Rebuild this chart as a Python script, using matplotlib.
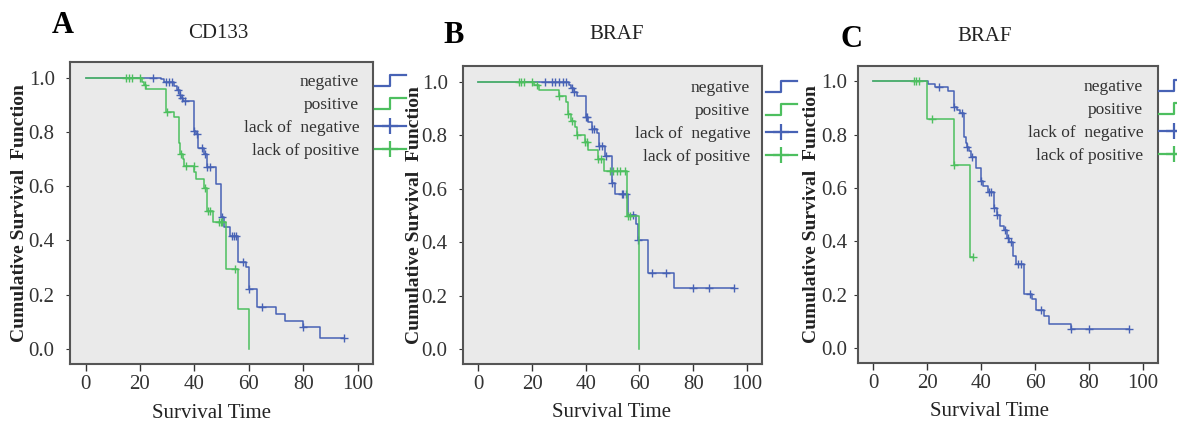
# Kaplan-Meier curves, three panels (CD133 / BRAF / BRAF)
import numpy as np
import matplotlib
matplotlib.use('Agg')
import matplotlib.pyplot as plt
from matplotlib.lines import Line2D
from matplotlib.legend_handler import HandlerBase

plt.rcParams['font.family'] = ['Liberation Serif', 'DejaVu Serif']

BLUE = '#4762B5'
GREEN = '#4DBF5F'
BG = '#EAEAEA'

######################## data #################################################
# panel A - CD133
a_neg_t = [0, 27.8, 28.8, 32.4, 33.5, 34.6, 35.2, 35.9, 39.7, 40.5, 41.3, 43.6, 44.7, 47.8,
           49.9, 50.7, 52.9, 56, 59, 60, 63.1, 70.1, 73.2, 80, 86, 95]
a_neg_s = [1.0, 0.995, 0.985, 0.968, 0.955, 0.937, 0.926, 0.913, 0.804, 0.793, 0.74, 0.72, 0.669, 0.607,
           0.485, 0.449, 0.417, 0.322, 0.30, 0.221, 0.155, 0.128, 0.103, 0.079, 0.039, 0.039]
a_neg_cens = [24.7, 29.6, 30.5, 31.7, 33.9, 34.8, 35.5, 36.4, 39.7, 40.9, 42.8, 44.0, 44.7, 45.6,
              50.1, 53.8, 54.5, 55.1, 57.8, 60, 64.9, 80, 95]

a_pos_t = [0, 20.8, 21.5, 22.3, 29.7, 32.4, 34.2, 34.8, 35.7, 36.2, 39.8, 40.7, 43.4, 44.6, 46.8, 51.7, 56, 60]
a_pos_s = [1.0, 0.983, 0.974, 0.958, 0.874, 0.856, 0.76, 0.72, 0.70, 0.673, 0.652, 0.626, 0.595, 0.507,
           0.467, 0.294, 0.148, 0.0]
a_pos_cens = [15, 16, 17, 20, 21.8, 29.9, 34.9, 36.8, 39.7, 43.8, 45, 45.9, 49, 49.6, 50.2, 54.8]

# panel B - BRAF
b_neg_t = [0, 33.6, 34.5, 35.5, 36.7, 40, 40.8, 42.3, 44.1, 45, 47.2, 49.6, 50.7, 55.9, 58.7, 59.4, 63, 72.9, 95]
b_neg_s = [1.0, 0.988, 0.976, 0.96, 0.945, 0.867, 0.848, 0.823, 0.807, 0.759, 0.721, 0.62, 0.58, 0.50,
           0.469, 0.407, 0.285, 0.229, 0.229]
b_neg_cens = [25, 27.4, 28.6, 29.9, 31.7, 32.6, 34.7, 35.5, 40, 40.5, 42.3, 43, 45, 46, 47.5, 49.7,
              53.4, 54, 54.9, 57.7, 59.6, 64.8, 69.9, 79.8, 85.9, 95]

b_pos_t = [0, 20.6, 22.7, 29.9, 32.6, 33.3, 34.6, 36, 36.6, 39.8, 40.8, 44.7, 46.6, 55.5, 59.9]
b_pos_s = [1.0, 0.988, 0.969, 0.944, 0.923, 0.877, 0.852, 0.83, 0.80, 0.774, 0.745, 0.711, 0.664, 0.497, 0.0]
b_pos_cens = [15, 16, 17, 20, 22, 30, 33.5, 34.8, 36.6, 39.8, 40.5, 44.7, 45.6, 49, 50.3, 51.6,
              52.8, 54.6, 55.6, 56.5]

# panel C - BRAF
c_neg_t = [0, 20.3, 22.7, 27.8, 29.9, 31.1, 32.0, 33.6, 34.2, 34.8, 35.4, 36.3, 37.9, 39.8, 40.8, 42.5,
           44.7, 45.7, 47, 48.5, 49.5, 50.5, 51.9, 52.8, 55.9, 59, 60.2, 63.3, 65.2, 73.2, 95]
c_neg_s = [1.0, 0.99, 0.98, 0.966, 0.903, 0.894, 0.882, 0.79, 0.77, 0.754, 0.739, 0.716, 0.677, 0.627, 0.607,
           0.585, 0.527, 0.50, 0.459, 0.443, 0.413, 0.397, 0.347, 0.316, 0.204, 0.185, 0.144, 0.119, 0.092,
           0.07, 0.07]
c_neg_cens = [24.4, 29.9, 33.0, 34.8, 36.7, 39.8, 42.9, 43.8, 44.7, 45.7, 48.8, 49.9, 50.9, 53.8, 54.6,
              58.1, 62.1, 73.2, 80, 95]

c_pos_t = [0, 20, 29.9, 36, 37]
c_pos_s = [1.0, 0.859, 0.685, 0.343, 0.343]
c_pos_cens = [15, 16, 16.9, 21.8, 29.9, 37]

labels = ['negative', 'positive', 'lack of  negative', 'lack of positive']
######################## data #################################################


class StepHandler(HandlerBase):
    # little step icon used by SPSS legends
    def create_artists(self, legend, orig_handle, xdescent, ydescent, width, height, fontsize, trans):
        xs = np.array([0, 0.5, 0.5, 1.0]) * width - xdescent
        ys = np.array([0.05, 0.05, 0.95, 0.95]) * height - ydescent
        ln = Line2D(xs, ys, color=orig_handle.get_color(), lw=1.6)
        ln.set_transform(trans)
        return [ln]


def censor_y(t, s, cens):
    idx = np.searchsorted(t, cens, side='right') - 1
    return np.asarray(s)[idx]


def px(x, y):
    # pixel position -> figure fraction
    return x / 1177.0, 1 - y / 430.0


fig = plt.figure(figsize=(11.77, 4.3), dpi=100)

panels = [
    dict(rect=[70, 62, 373, 364], letter='A', letter_xy=(52, 33), title='CD133', title_xy=(218, 38),
         neg=(a_neg_t, a_neg_s, a_neg_cens), pos=(a_pos_t, a_pos_s, a_pos_cens), xl=211, yl=24, leg=406, legy=74,
         ypad=8),
    dict(rect=[463, 66, 762, 364], letter='B', letter_xy=(443, 43), title='BRAF', title_xy=(617, 39),
         neg=(b_neg_t, b_neg_s, b_neg_cens), pos=(b_pos_t, b_pos_s, b_pos_cens), xl=612, yl=419, leg=797, legy=80,
         ypad=8),
    dict(rect=[858, 66, 1158, 363], letter='C', letter_xy=(840, 47), title='BRAF', title_xy=(985, 41),
         neg=(c_neg_t, c_neg_s, c_neg_cens), pos=(c_pos_t, c_pos_s, c_pos_cens), xl=989, yl=816, leg=1190, legy=79,
         ypad=5),
]

for p in panels:
    l, t, r, b = p['rect']
    ax = fig.add_axes([l / 1177.0, 1 - b / 430.0, (r - l) / 1177.0, (b - t) / 430.0])
    ax.set_facecolor(BG)

    for (tt, ss, cc), col in [(p['neg'], BLUE), (p['pos'], GREEN)]:
        ax.step(tt, ss, where='post', color=col, lw=1.1)
        ax.plot(cc, censor_y(tt, ss, cc), ls='none', marker='+', ms=6, mew=1.0, color=col)

    ax.set_xlim(-5.7, 105.6)
    ax.set_ylim(-0.056, 1.058)
    ax.set_xticks(range(0, 101, 20))
    ax.set_yticks(np.arange(0, 1.01, 0.2))
    ax.set_yticklabels(['%.1f' % v for v in np.arange(0, 1.01, 0.2)])
    ax.tick_params(axis='x', direction='out', length=5, width=1, pad=3, labelsize=15, colors='#333333')
    ax.tick_params(axis='y', direction='out', length=3, width=0.8, pad=p['ypad'], labelsize=15, colors='#333333')
    for sp in ax.spines.values():
        sp.set_color('#555555')
        sp.set_linewidth(1.5)

    ax.set_xlabel('Survival Time', fontsize=15, color='#222222')
    ax.xaxis.set_label_coords((p['xl'] - l) / float(r - l), -0.131)
    ax.set_ylabel('Cumulative Survival  Function', fontsize=14, fontweight='bold', color='#222222')
    ax.yaxis.set_label_coords((p['yl'] + 4 - l) / float(r - l), 0.5)

    # legend: text inside the frame, icons sticking out on the right
    h_neg = Line2D([], [], color=BLUE)
    h_pos = Line2D([], [], color=GREEN)
    h_cn = Line2D([], [], color=BLUE, lw=1.6, marker='+', ms=12, mew=1.6)
    h_cp = Line2D([], [], color=GREEN, lw=1.6, marker='+', ms=12, mew=1.6)
    leg = ax.legend([h_neg, h_pos, h_cn, h_cp], labels, loc='upper right',
                    bbox_to_anchor=((p['leg'] - l) / float(r - l), (b - p['legy']) / float(b - t)),
                    frameon=False, markerfirst=False, fontsize=12.5, labelspacing=0.4,
                    handlelength=1.8, handletextpad=0.9, borderpad=0, borderaxespad=0,
                    handler_map={h_neg: StepHandler(), h_pos: StepHandler()})
    for txt in leg.get_texts():
        txt.set_color('#333333')

    fig.text(*px(*p['letter_xy']), p['letter'], fontsize=22, fontweight='bold', ha='left', va='baseline')
    fig.text(*px(*p['title_xy']), p['title'], fontsize=15, ha='center', va='baseline', color='#222222')

fig.savefig('out.png', dpi=100)
